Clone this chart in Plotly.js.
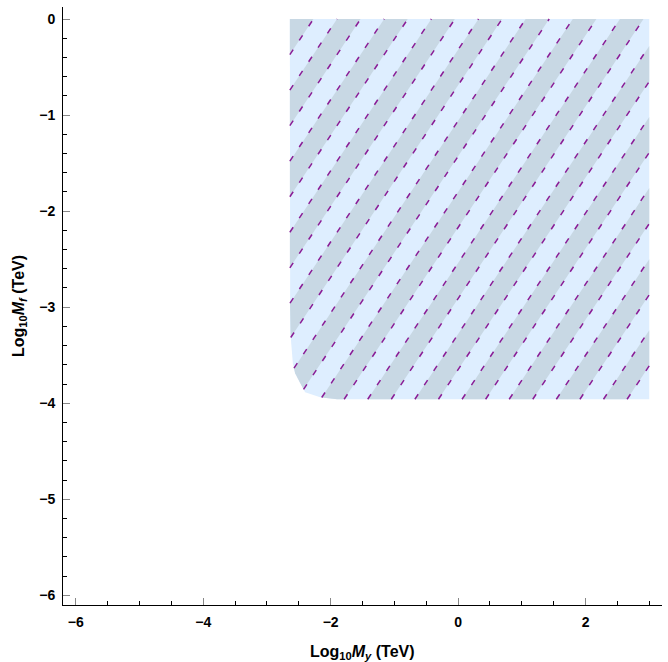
<!DOCTYPE html>
<html>
<head>
<meta charset="utf-8">
<script src="https://cdn.plot.ly/plotly-3.0.1.min.js"></script>
<style>
  html, body { margin: 0; padding: 0; background: #ffffff; }
  #chart { width: 668px; height: 662px; }
</style>
</head>
<body>
<div id="chart"></div>
<script>
// ---- Data ----
// Allowed region boundary (Log10 M_y, Log10 M_f)
const boundaryX = [-2.64, -2.64, -2.635, -2.593, -2.557, -2.478, -2.40, -2.165, -1.898, 3.0, 3.0];
const boundaryY = [0.0, -2.70, -3.24, -3.583, -3.688, -3.79, -3.885, -3.938, -3.958, -3.958, 0.0];

// Mesh lines: Log10 M_y - Log10 M_f = const (dashed, shaded bands between them)
const meshC = [-2.64, -2.27, -1.90, -1.53, -1.16, -0.79, -0.42, -0.05, 0.32, 0.69,
               1.06, 1.43, 1.80, 2.17, 2.54, 2.91, 3.28, 3.65, 4.02, 4.39,
               4.76, 5.13, 5.50, 5.87, 6.24, 6.61, 6.98];

const xTickVals = [-6, -4, -2, 0, 2];
const yTickVals = [-6, -5, -4, -3, -2, -1, 0];

// ---- Styles ----
const lightFill = 'rgb(222,238,255)';
const darkFill = 'rgb(200,216,228)';
const meshColor = 'rgb(138,28,150)';
const FONT = 'Liberation Sans, Arial, Helvetica, sans-serif';

// ---- Geometry helpers (clip region by mesh function f = x - y) ----
const poly = boundaryX.map((x, i) => [x, boundaryY[i]]);
function clipHalf(pts, c, keepAbove) {
  const out = [];
  const g = p => (keepAbove ? (p[0] - p[1] - c) : (c - (p[0] - p[1])));
  for (let i = 0; i < pts.length; i++) {
    const a = pts[i], b = pts[(i + 1) % pts.length];
    const ga = g(a), gb = g(b);
    if (ga >= 0) out.push(a);
    if ((ga >= 0) !== (gb >= 0)) {
      const t = ga / (ga - gb);
      out.push([a[0] + t * (b[0] - a[0]), a[1] + t * (b[1] - a[1])]);
    }
  }
  return out;
}
function lineSegment(pts, c) {
  const hits = [];
  for (let i = 0; i < pts.length; i++) {
    const a = pts[i], b = pts[(i + 1) % pts.length];
    const fa = a[0] - a[1] - c, fb = b[0] - b[1] - c;
    if (fa === 0) hits.push(a);
    if ((fa < 0 && fb > 0) || (fa > 0 && fb < 0)) {
      const t = fa / (fa - fb);
      hits.push([a[0] + t * (b[0] - a[0]), a[1] + t * (b[1] - a[1])]);
    }
  }
  if (hits.length < 2) return null;
  hits.sort((p, q) => p[0] - q[0]);
  const p = hits[0], q = hits[hits.length - 1];
  if (Math.hypot(q[0] - p[0], q[1] - p[1]) < 1e-3) return null;
  return [p, q];
}

const traces = [];
traces.push({
  type: 'scatter', mode: 'lines',
  x: boundaryX.concat([boundaryX[0]]), y: boundaryY.concat([boundaryY[0]]),
  fill: 'toself', fillcolor: lightFill, line: { width: 0, color: lightFill },
  hoverinfo: 'skip', showlegend: false
});
for (let i = 0; i + 1 < meshC.length; i += 2) {
  let p = clipHalf(poly, meshC[i], true);
  p = clipHalf(p, meshC[i + 1], false);
  if (p.length < 3) continue;
  traces.push({
    type: 'scatter', mode: 'lines',
    x: p.map(q => q[0]).concat([p[0][0]]), y: p.map(q => q[1]).concat([p[0][1]]),
    fill: 'toself', fillcolor: darkFill, line: { width: 0, color: darkFill },
    hoverinfo: 'skip', showlegend: false
  });
}
const lx = [], ly = [];
meshC.forEach(c => {
  const s = lineSegment(poly, c);
  if (!s) return;
  lx.push(s[0][0], s[1][0], null);
  ly.push(s[0][1], s[1][1], null);
});
traces.push({
  type: 'scatter', mode: 'lines', x: lx, y: ly, connectgaps: false,
  line: { color: meshColor, width: 1.5, dash: '6px,11px' },
  hoverinfo: 'skip', showlegend: false
});

const tickFont = { family: FONT, size: 14, color: '#000000', weight: 'bold' };

const layout = {
  width: 668, height: 662,
  margin: { l: 63, r: 6, t: 7, b: 57 },
  paper_bgcolor: '#ffffff', plot_bgcolor: '#ffffff',
  showlegend: false, hovermode: false,
  xaxis: {
    range: [-6.2, 3.2], showgrid: false, zeroline: false,
    showline: true, linecolor: '#000000', linewidth: 1, mirror: false,
    tickmode: 'array', tickvals: xTickVals,
    ticks: 'inside', ticklen: 7, tickwidth: 1, tickcolor: '#888888',
    minor: { dtick: 0.5, tick0: 0, ticks: 'inside', ticklen: 4, tickwidth: 1, tickcolor: '#000000' },
    tickfont: tickFont, ticklabelstandoff: 4
  },
  yaxis: {
    range: [-6.1, 0.125], showgrid: false, zeroline: false,
    showline: true, linecolor: '#000000', linewidth: 1, mirror: false,
    tickmode: 'array', tickvals: yTickVals,
    ticks: 'inside', ticklen: 7, tickwidth: 1, tickcolor: '#888888',
    minor: { dtick: 0.2, tick0: 0, ticks: 'inside', ticklen: 4, tickwidth: 1, tickcolor: '#000000' },
    tickfont: tickFont, ticklabelstandoff: 4
  },
  annotations: [
    {
      xref: 'paper', yref: 'paper', x: 0.5, y: (605 - 652) / 598,
      xanchor: 'center', yanchor: 'middle', showarrow: false,
      text: '<b>Log<sub>10</sub><i>M</i><sub><i>y</i></sub> (TeV)</b>',
      font: { family: FONT, size: 16, color: '#000000' }
    },
    {
      xref: 'paper', yref: 'paper', x: (19 - 63) / 599, y: 0.5,
      xanchor: 'center', yanchor: 'middle', showarrow: false, textangle: -90,
      text: '<b>Log<sub>10</sub><i>M</i><sub><i>f</i></sub> (TeV)</b>',
      font: { family: FONT, size: 16, color: '#000000' }
    }
  ]
};

Plotly.newPlot('chart', traces, layout, { displayModeBar: false, staticPlot: true });
</script>
</body>
</html>
